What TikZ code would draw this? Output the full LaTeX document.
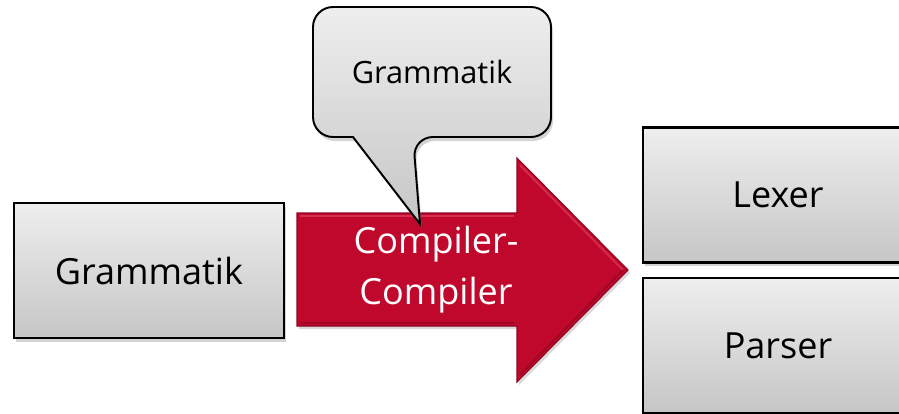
\documentclass[tikz,border=0pt]{standalone}
\usepackage{fontspec}
\setmainfont{Open Sans}
\usetikzlibrary{shadows}
\definecolor{boxtop}{HTML}{EEEEEE}
\definecolor{boxbot}{HTML}{C6C6C6}
\definecolor{crim}{HTML}{C0082D}
\definecolor{crimlight}{HTML}{E0405E}
\definecolor{crimdark}{HTML}{8E0420}
\tikzset{
  graybox/.style={draw=black, line width=1.2pt, top color=boxtop, bottom color=boxbot,
    minimum width=5.4cm, minimum height=2.7cm, inner sep=0pt,
    font=\fontsize{20.5}{24}\selectfont,
    drop shadow={opacity=0.35, shadow xshift=0.04cm, shadow yshift=-0.08cm}},
  calloutshape/.style={draw=black, line width=1.1pt, top color=boxtop, bottom color=boxbot,
    rounded corners=0.4cm,
    drop shadow={opacity=0.35, shadow xshift=0.04cm, shadow yshift=-0.08cm}},
  arrowshape/.style={fill=crim, draw=crimdark, line width=0.6pt,
    drop shadow={opacity=0.3, shadow xshift=0.04cm, shadow yshift=-0.06cm}},
  lbl/.style={font=\fontsize{20.5}{29}\selectfont, align=center},
}
\begin{document}
\begin{tikzpicture}[x=0.02cm, y=-0.02cm]
\useasboundingbox (0,0) rectangle (899,413);
% red arrow
\path[arrowshape] (297,213) -- (517,213) -- (517,158) -- (628,270) -- (517,382)
  -- (517,326) -- (297,326) -- cycle;
\draw[crimlight, line width=1.5pt, opacity=0.7] (300,216) -- (514,216);
\draw[crimlight, line width=1.2pt, opacity=0.6] (520,165) -- (623,270);
\draw[crimdark, line width=1.5pt, opacity=0.6] (300,323) -- (514,323);
\draw[crimdark, line width=1.2pt, opacity=0.6] (623,270) -- (520,375);
\node[lbl, text=white] (cc) at (436,270) {Compiler-\\Compiler};
% callout
\path[calloutshape] (313,7) -- (551,7) -- (551,137) -- (413,137)
  [sharp corners] -- (420,224) -- (353,137) [rounded corners=0.4cm] -- (313,137) -- cycle;
\node[font=\fontsize{17.5}{22}\selectfont] (cg) at (432,72) {Grammatik};
% boxes
\node[graybox] (gram) at (149,270.5) {Grammatik};
\node[graybox] (lexer) at (778,195) {Lexer};
\node[graybox] (parser) at (778,345.5) {Parser};
\end{tikzpicture}
\end{document}
